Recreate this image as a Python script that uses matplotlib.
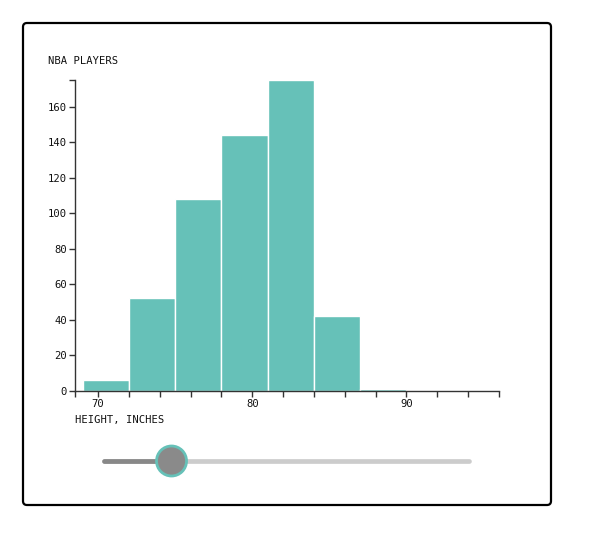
import matplotlib; matplotlib.use('Agg')
from matplotlib import pyplot as plt
from matplotlib.patches import FancyBboxPatch, Circle
import numpy as np

# histogram of player heights (inches), bins of 3
bin_edges = [69, 72, 75, 78, 81, 84, 87, 90, 93, 96]
counts = [6, 52, 108, 144, 175, 42, 1, 0, 0]
x_domain = [68.5, 96]
y_max = 175
y_ticks = [0, 20, 40, 60, 80, 100, 120, 140, 160]
x_major = [70, 80, 90]
x_minor = [68.5, 72, 74, 76, 78, 82, 84, 86, 88, 92, 94, 96]

title = 'NBA PLAYERS'
xlabel = 'HEIGHT, INCHES'
slider_frac = 0.185

teal = '#66c1b8'
axis_col = '#333333'
W, H = 589, 533

plt.rcParams['font.family'] = ['DejaVu Sans Mono']
fs = 7.6

fig = plt.figure(figsize=(W / 100.0, H / 100.0), dpi=100)

def px(x0, y0, x1, y1):
	# pixel box -> figure fraction
	return [x0 / W, 1 - y1 / H, (x1 - x0) / W, (y1 - y0) / H]

ax = fig.add_axes(px(75, 80, 499, 390.7))
widths = np.diff(bin_edges)
ax.bar(bin_edges[:-1], counts, width=widths, align='edge', color=teal, edgecolor='white', linewidth=1.0)
ax.set_xlim(x_domain)
ax.set_ylim(0, y_max)

for s in ['top', 'right']:
	ax.spines[s].set_visible(False)
for s in ['left', 'bottom']:
	ax.spines[s].set_color(axis_col)
	ax.spines[s].set_linewidth(1.0)

ax.set_yticks(y_ticks + [y_max])
ax.set_yticklabels([str(v) for v in y_ticks] + [''])
ax.set_xticks(x_major)
ax.set_xticklabels([str(v) for v in x_major])
ax.set_xticks(x_minor, minor=True)
ax.tick_params(axis='both', which='both', length=4.3, width=1.0, color=axis_col, labelsize=fs, pad=1.5, labelcolor='#111111')

fig.text(48 / W, 1 - 61 / H, title, fontsize=fs, va='center', ha='left', color='#111111')
fig.text(75 / W, 1 - 420 / H, xlabel, fontsize=fs, va='center', ha='left', color='#111111')

# overlay in pixel coords: card border and slider
ov = fig.add_axes([0, 0, 1, 1], zorder=-1)
ov.set_xlim(0, W)
ov.set_ylim(H, 0)
ov.axis('off')
ov.add_patch(FancyBboxPatch((23, 23), 528, 482, boxstyle='round,pad=0,rounding_size=4', fill=False, edgecolor='black', linewidth=1.6))

ov2 = fig.add_axes([0, 0, 1, 1], zorder=5)
ov2.set_xlim(0, W)
ov2.set_ylim(H, 0)
ov2.axis('off')
sx0, sx1, sy = 104, 469, 461
knob_x = sx0 + slider_frac * (sx1 - sx0)
ov2.plot([sx0, sx1], [sy, sy], color='#cccccc', linewidth=3.4, solid_capstyle='round', zorder=1)
ov2.plot([sx0, knob_x], [sy, sy], color='#888888', linewidth=3.4, solid_capstyle='round', zorder=2)
ov2.add_patch(Circle((knob_x, sy), 15, facecolor='#8a8a8a', edgecolor=teal, linewidth=2.0, zorder=3))

plt.savefig('out.png', dpi=100)
